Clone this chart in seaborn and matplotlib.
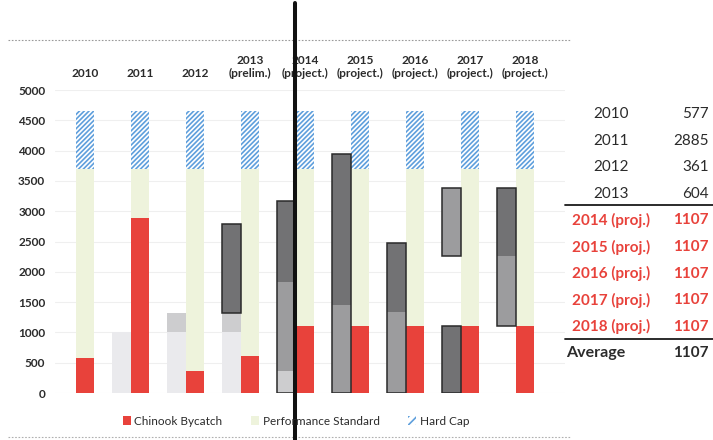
import numpy as np
import matplotlib
matplotlib.use("Agg")
import matplotlib.pyplot as plt
import seaborn as sns
from matplotlib.patches import Patch, Rectangle
from matplotlib.lines import Line2D

# ---- data -------------------------------------------------------------
categories = ["2010", "2011", "2012", "2013\n(prelim.)", "2014\n(project.)",
              "2015\n(project.)", "2016\n(project.)", "2017\n(project.)",
              "2018\n(project.)"]
bycatch = [577, 2885, 361, 604, 1107, 1107, 1107, 1107, 1107]
performance_standard = 3700
hard_cap = 4650

# stacked grey multi-year segments: category index, bottom, top, shade tier
grey_cat = [1, 2, 2, 3, 3, 3, 4, 4, 4, 5, 5, 5, 6, 6, 7, 7, 8, 8]
grey_low = [0, 0, 1000, 0, 1000, 1320, 0, 361, 1830, 0, 1450, 2820,
            0, 1340, 0, 2260, 1107, 2260]
grey_high = [1000, 1000, 1320, 1000, 1320, 2790, 361, 1830, 3170, 1450, 2820,
             3940, 1340, 2475, 1107, 3380, 2260, 3380]
grey_tier = [0, 0, 1, 0, 1, 3, 1, 2, 3, 2, 3, 3, 2, 3, 3, 2, 2, 3]

# outlined grey blocks: category index, bottom, top
outline_cat = [3, 4, 5, 6, 7, 7, 8]
outline_low = [1320, 0, 0, 0, 0, 2260, 1107]
outline_high = [2790, 3170, 3940, 2475, 1107, 3380, 3380]

table_labels = ["2010", "2011", "2012", "2013", "2014 (proj.)", "2015 (proj.)",
                "2016 (proj.)", "2017 (proj.)", "2018 (proj.)", "Average"]
table_values = [577, 2885, 361, 604, 1107, 1107, 1107, 1107, 1107, 1107]

legend_labels = ["Chinook Bycatch", "Performance Standard", "Hard Cap"]

# ---- style ------------------------------------------------------------
sns.set_theme(style="white")
plt.rcParams["font.family"] = ["Lato", "DejaVu Sans"]
plt.rcParams["hatch.linewidth"] = 1.2

RED = "#e8423b"
GREEN = "#eef3dc"
BLUE = "#5f9fdc"
GREY_TIERS = ["#eaeaed", "#cdcdcf", "#9c9c9e", "#727274"]
TEXT = "#2b2b2b"

W, H = 713, 440
fig = plt.figure(figsize=(W / 100, H / 100), dpi=100)


def fx(px):
    return px / W


def fy(py):
    return 1 - py / H


ax_left, ax_right, ax_top, ax_bottom = 55, 565, 90, 393
ax = fig.add_axes([fx(ax_left), fy(ax_bottom), fx(ax_right - ax_left),
                   (ax_bottom - ax_top) / H])

x = np.arange(len(categories))
bar_w = 0.345
grey_w = 0.33

# performance standard band and hard-cap band behind the bycatch bars
ax.bar(x, [performance_standard] * len(x), width=bar_w, color=GREEN,
       linewidth=0, zorder=1)
ax.bar(x, [hard_cap - performance_standard] * len(x), bottom=performance_standard,
       width=bar_w, color="white", edgecolor=BLUE, hatch="///////", linewidth=0,
       zorder=1)

# bycatch bars
sns.barplot(x=x, y=bycatch, native_scale=True, width=bar_w, color=RED,
            saturation=1, errorbar=None, ax=ax, zorder=3, linewidth=0)

# grey stacked segments to the left of each category
gx = np.array(grey_cat) - bar_w / 2 - grey_w / 2
for xi, lo, hi, tier in zip(gx, grey_low, grey_high, grey_tier):
    ax.bar(xi, hi - lo, bottom=lo, width=grey_w, color=GREY_TIERS[tier],
           linewidth=0, zorder=2)
for ci, lo, hi in zip(outline_cat, outline_low, outline_high):
    xi = ci - bar_w / 2 - grey_w
    ax.add_patch(Rectangle((xi, lo), grey_w, hi - lo, fill=False,
                           edgecolor="#2a2a2a", linewidth=1.1, zorder=4))

ax.set_xlim((ax_left - 85) / 55, (ax_right - 85) / 55)
ax.set_ylim(0, 5000)
ax.set_yticks(np.arange(0, 5001, 500))
ax.set_yticklabels([str(v) for v in range(0, 5001, 500)])
ax.yaxis.grid(True, color="#efefef", linewidth=0.8, zorder=0)
ax.set_axisbelow(True)
ax.xaxis.tick_top()
ax.set_xticks(x)
ax.set_xticklabels(categories)
ax.tick_params(axis="x", length=0, pad=8, labelsize=8.6, colors=TEXT)
ax.tick_params(axis="y", length=0, pad=7, labelsize=8.5, colors=TEXT)
for lbl in ax.get_xticklabels():
    lbl.set_fontweight("bold")
    lbl.set_linespacing(1.25)
for lbl in ax.get_yticklabels():
    lbl.set_fontweight("bold")
ax.set_xlabel("")
ax.set_ylabel("")
for s in ax.spines.values():
    s.set_visible(False)

# legend
handles = [Patch(facecolor=RED, edgecolor="none"),
           Patch(facecolor=GREEN, edgecolor="none"),
           Patch(facecolor="white", edgecolor=BLUE, hatch="////", linewidth=0)]
fig.legend(handles, legend_labels, loc="center", ncol=3, frameon=False,
           bbox_to_anchor=(fx(296), fy(421)), fontsize=8.5,
           handlelength=0.7, handleheight=0.7, handletextpad=0.3,
           columnspacing=2.4, labelcolor=TEXT)

# summary table on the right
row0, step = 114, 26.6
for i, (lab, val) in enumerate(zip(table_labels, table_values)):
    y = row0 + step * i
    proj = "proj." in lab
    color = RED if proj else TEXT
    weight = "bold" if (proj or lab == "Average") else "normal"
    if lab == "Average":
        fig.text(fx(566), fy(y), lab, ha="left", va="center", fontsize=11.5,
                 color=TEXT, fontweight="bold")
    else:
        fig.text(fx(611), fy(y), lab, ha="center", va="center", fontsize=11,
                 color=color, fontweight=weight)
    fig.text(fx(709), fy(y), str(val), ha="right", va="center", fontsize=11,
             color=color, fontweight=weight)
for yy in (205, 339):
    fig.add_artist(Line2D([fx(565), fx(713)], [fy(yy), fy(yy)],
                          color="#1a1a1a", linewidth=1.3))

# page rules and the vertical divider
fig.add_artist(Line2D([fx(8), fx(570)], [fy(40), fy(40)], color="#9a9a9a",
                      linewidth=0.8, linestyle=(0, (1.5, 1.5))))
fig.add_artist(Line2D([fx(8), fx(570)], [fy(437), fy(437)], color="#b0b0b0",
                      linewidth=0.8, linestyle=(0, (1.5, 1.5))))
fig.add_artist(Line2D([fx(295), fx(295)], [fy(3), fy(440)], color="#111111",
                      linewidth=2.9))

fig.savefig("out.png", dpi=100)
